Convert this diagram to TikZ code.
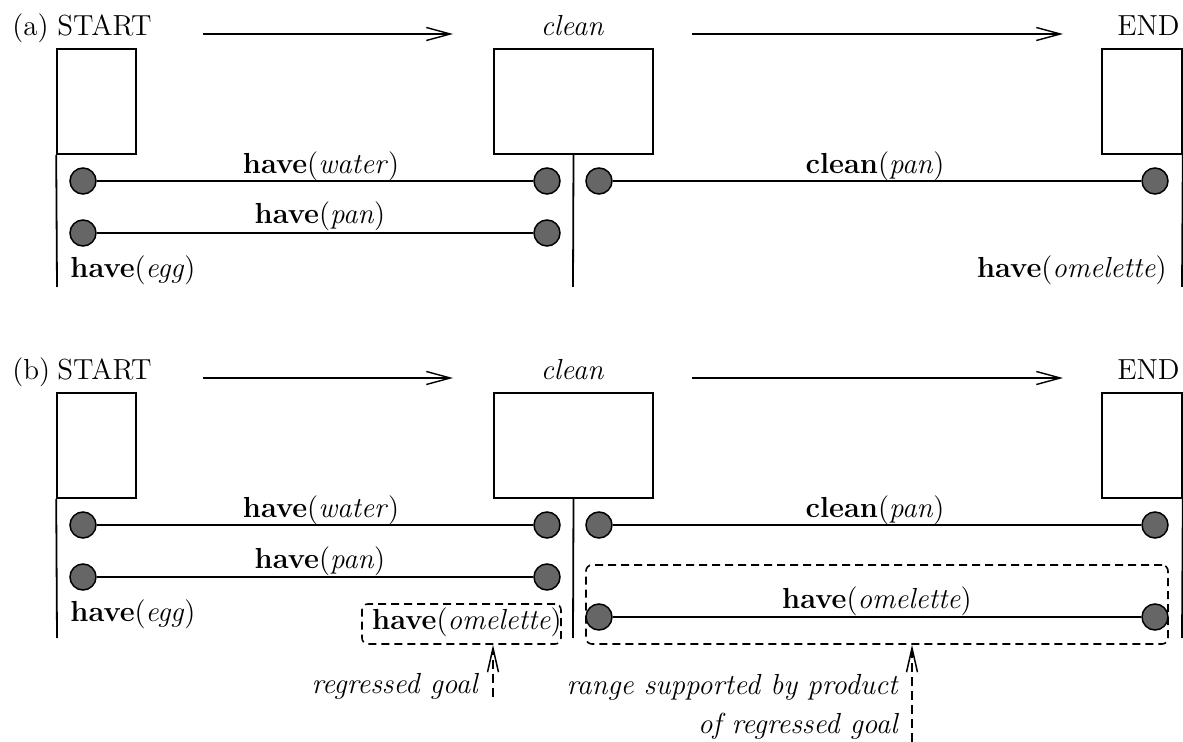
\documentclass[tikz,border=0pt]{standalone}
\usetikzlibrary{arrows.meta}

% One partial-order plan panel: #1 = name prefix, #2 = panel letter,
% #3 = y (local) where the vertical condition lines stop.
\newcommand\planpanel[3]{%
  \node[txt, anchor=base west] (#1lbl) at (12,36) {(#2)};
  \node[txt, anchor=base west] (#1startlbl) at (57,36) {START};
  \node[txt, anchor=base] (#1cleanlbl) at (572,36) {\itshape clean};
  \node[txt, anchor=base east] (#1endlbl) at (1180,36) {END};
  % ordering arrows between the steps
  \coordinate (#1oas) at (203,34); \coordinate (#1oae) at (453,34);
  \coordinate (#1obs) at (692,34); \coordinate (#1obe) at (1063,34);
  \draw[order] (#1oas) -- (#1oae);
  \draw[order] (#1obs) -- (#1obe);
  % step boxes
  \node[stepbox, minimum width=39.5pt, minimum height=52.5pt] (#1start) at (96.5,101.5) {};
  \node[stepbox, minimum width=79.5pt, minimum height=52.5pt] (#1clean) at (573.5,101.5) {};
  \node[stepbox, minimum width=40pt, minimum height=52.5pt] (#1end) at (1142,101.5) {};
  % time lines below the steps
  \coordinate (#1startfoot) at (57,#3);
  \coordinate (#1cleanfoot) at (573,#3);
  \coordinate (#1endfoot) at (1182,#3);
  \draw[cond] (#1start.south west) -- (#1startfoot);
  \draw[cond] (#1clean.south) -- (#1cleanfoot);
  \draw[cond] (#1end.south east) -- (#1endfoot);
  % protected conditions
  \node[dot] (#1wa) at (83,181) {};  \node[dot] (#1wb) at (547,181) {};
  \node[dot] (#1pa) at (83,233) {};  \node[dot] (#1pb) at (547,233) {};
  \node[dot] (#1ca) at (599,181) {}; \node[dot] (#1cb) at (1155,181) {};
  \draw[cond] (#1wa) -- (#1wb);
  \draw[cond] (#1pa) -- (#1pb);
  \draw[cond] (#1ca) -- (#1cb);
  \node[txt, anchor=base] (#1water) at (321,174) {\textbf{have}(\textit{water})};
  \node[txt, anchor=base] (#1pan) at (320,224) {\textbf{have}(\textit{pan})};
  \node[txt, anchor=base west] (#1egg) at (70,278) {\textbf{have}(\textit{egg})};
  \node[txt, anchor=base] (#1cpan) at (875,174) {\textbf{clean}(\textit{pan})};
}

\begin{document}
\begin{tikzpicture}[x=0.5pt,y=-0.5pt,
  txt/.style={inner sep=0pt, font=\fontsize{14.5}{17}\selectfont},
  stepbox/.style={draw, line width=0.8pt, inner sep=0pt},
  dot/.style={circle, draw, line width=0.75pt, fill=black!60, minimum size=13pt, inner sep=0pt},
  cond/.style={line width=0.9pt},
  order/.style={line width=0.7pt, -{Straight Barb[length=12pt,width=6.5pt]}},
  region/.style={draw, line width=0.8pt, dash pattern=on 4pt off 2.5pt, rounded corners=3pt, inner sep=0pt},
  pointer/.style={line width=0.75pt, dash pattern=on 4.5pt off 2.5pt, -{Straight Barb[length=12pt,width=5.5pt]}}]
\useasboundingbox (0,0) rectangle (1183,742);

% (a) plan before regression
\planpanel{a}{a}{287}
\node[txt, anchor=base east] (aomel) at (1167,278) {\textbf{have}(\textit{omelette})};

% (b) plan with the regressed goal
\begin{scope}[shift={(0,344)}]
  \planpanel{b}{b}{294}
\end{scope}

\node[region, minimum width=99.5pt, minimum height=20pt] (goalbox) at (461.5,624) {};
\node[txt, anchor=base] (goaltxt) at (467,630) {\textbf{have}(\textit{omelette})};

\node[region, minimum width=291pt, minimum height=39.5pt] (rangebox) at (877,604.5) {};
\node[dot] (oa) at (599,617) {};
\node[dot] (ob) at (1155,617) {};
\draw[cond] (oa) -- (ob);
\node[txt, anchor=base] (rangetxt) at (877,609) {\textbf{have}(\textit{omelette})};

% annotations
\coordinate (goalfoot) at (493,697);
\draw[pointer] (goalfoot) -- (goalfoot |- goalbox.south);
\node[txt, anchor=base east] (goalnote) at (478,693) {\itshape regressed goal};

\coordinate (rangefoot) at (912,742);
\draw[pointer] (rangefoot) -- (rangefoot |- rangebox.south);
\node[txt, anchor=base east] (rangenotea) at (898,694) {\itshape range supported by product};
\node[txt, anchor=base east] (rangenoteb) at (898,733) {\itshape of regressed goal};
\end{tikzpicture}
\end{document}
